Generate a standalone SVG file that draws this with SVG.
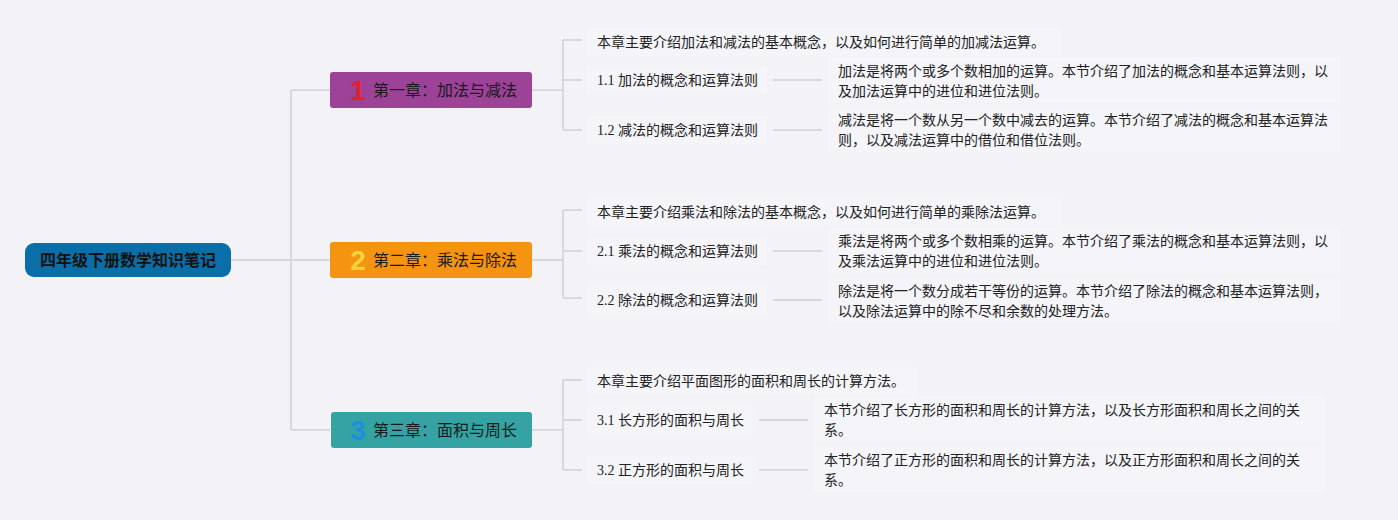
<svg xmlns="http://www.w3.org/2000/svg" width="1398" height="520" viewBox="0 0 1398 520">
<defs>
<style>
.bg{fill:#f2f2f7}
.tbg{fill:#f4f4f9}
.conn{fill:none;stroke:#d8d8dd;stroke-width:2}
.root{font-family:"Noto Sans CJK SC",sans-serif;font-size:16px;font-weight:bold;fill:#111}
.ch{font-family:"Noto Sans CJK SC",sans-serif;font-size:16px;fill:#1a1a1a}
.num{font-family:"Liberation Sans",Arial,sans-serif;font-size:28px;font-weight:bold;text-anchor:middle}
.t{font-family:"Liberation Serif","Noto Sans CJK SC",serif;font-size:14px;fill:#222}
.d{font-family:"Noto Sans CJK SC",sans-serif;font-size:14px;fill:#222}
</style>
</defs>
<rect class="bg" x="0" y="0" width="1398" height="520"/>

<g id="connectors">
<path class="conn" d="M231 260 H291 M291 90 V430 M291 90 H330 M291 260 H330 M291 430 H330"/>
<path class="conn" d="M532 90 H563 M563 40 V130 M563 40 H582 M563 80 H582 M563 130 H582"/>
<path class="conn" d="M532 260 H563 M563 210 V298 M563 210 H582 M563 251 H582 M563 298 H582"/>
<path class="conn" d="M532 430 H563 M563 380 V470 M563 380 H582 M563 420 H582 M563 470 H582"/>
<path class="conn" d="M773 80 H822 M773 130 H822 M773 251 H822 M773 300 H822 M759 420 H808 M759 470 H808"/>
</g>

<g id="root">
<rect x="25" y="243" width="206" height="34" rx="9" fill="#0a6fa8"/>
<text class="root" x="128" y="266" text-anchor="middle">四年级下册数学知识笔记</text>
</g>

<g id="ch1">
<rect x="330" y="72" width="202" height="36" rx="3" fill="#9c4397"/>
<text class="num" x="358" y="100" fill="#e3202b">1</text>
<text class="ch" x="373" y="96">第一章：加法与减法</text>
</g>
<g id="ch2">
<rect x="330" y="242" width="202" height="36" rx="3" fill="#f49410"/>
<text class="num" x="358" y="270" fill="#f6d43c">2</text>
<text class="ch" x="373" y="266">第二章：乘法与除法</text>
</g>
<g id="ch3">
<rect x="331" y="412" width="201" height="36" rx="3" fill="#35a3a3"/>
<text class="num" x="358" y="440" fill="#1e8fe0">3</text>
<text class="ch" x="373" y="436">第三章：面积与周长</text>
</g>

<g id="ch1-intro">
<rect class="tbg" x="587" y="28" width="475" height="28"/>
<text class="d" x="597" y="47">本章主要介绍加法和减法的基本概念，以及如何进行简单的加减法运算。</text>
</g>
<g id="ch1-s1">
<rect class="tbg" x="587" y="66" width="180" height="28"/>
<text class="t" x="597" y="85">1.1 加法的概念和运算法则</text>
</g>
<g id="ch1-s1-d">
<rect class="tbg" x="828" y="57" width="512" height="46"/>
<text class="d" x="838" y="76">加法是将两个或多个数相加的运算。本节介绍了加法的概念和基本运算法则，以</text>
<text class="d" x="838" y="96">及加法运算中的进位和进位法则。</text>
</g>
<g id="ch1-s2">
<rect class="tbg" x="587" y="116" width="180" height="28"/>
<text class="t" x="597" y="135">1.2 减法的概念和运算法则</text>
</g>
<g id="ch1-s2-d">
<rect class="tbg" x="828" y="106" width="512" height="46"/>
<text class="d" x="838" y="125">减法是将一个数从另一个数中减去的运算。本节介绍了减法的概念和基本运算法</text>
<text class="d" x="838" y="145">则，以及减法运算中的借位和借位法则。</text>
</g>

<g id="ch2-intro">
<rect class="tbg" x="587" y="198" width="475" height="28"/>
<text class="d" x="597" y="217">本章主要介绍乘法和除法的基本概念，以及如何进行简单的乘除法运算。</text>
</g>
<g id="ch2-s1">
<rect class="tbg" x="587" y="237" width="180" height="28"/>
<text class="t" x="597" y="256">2.1 乘法的概念和运算法则</text>
</g>
<g id="ch2-s1-d">
<rect class="tbg" x="828" y="227" width="512" height="46"/>
<text class="d" x="838" y="246">乘法是将两个或多个数相乘的运算。本节介绍了乘法的概念和基本运算法则，以</text>
<text class="d" x="838" y="266">及乘法运算中的进位和进位法则。</text>
</g>
<g id="ch2-s2">
<rect class="tbg" x="587" y="286" width="180" height="28"/>
<text class="t" x="597" y="305">2.2 除法的概念和运算法则</text>
</g>
<g id="ch2-s2-d">
<rect class="tbg" x="828" y="277" width="512" height="46"/>
<text class="d" x="838" y="296">除法是将一个数分成若干等份的运算。本节介绍了除法的概念和基本运算法则，</text>
<text class="d" x="838" y="316">以及除法运算中的除不尽和余数的处理方法。</text>
</g>

<g id="ch3-intro">
<rect class="tbg" x="587" y="367" width="330" height="28"/>
<text class="d" x="597" y="386">本章主要介绍平面图形的面积和周长的计算方法。</text>
</g>
<g id="ch3-s1">
<rect class="tbg" x="587" y="406" width="166" height="28"/>
<text class="t" x="597" y="425">3.1 长方形的面积与周长</text>
</g>
<g id="ch3-s1-d">
<rect class="tbg" x="814" y="396" width="512" height="46"/>
<text class="d" x="824" y="415">本节介绍了长方形的面积和周长的计算方法，以及长方形面积和周长之间的关</text>
<text class="d" x="824" y="435">系。</text>
</g>
<g id="ch3-s2">
<rect class="tbg" x="587" y="456" width="166" height="28"/>
<text class="t" x="597" y="475">3.2 正方形的面积与周长</text>
</g>
<g id="ch3-s2-d">
<rect class="tbg" x="814" y="446" width="512" height="46"/>
<text class="d" x="824" y="465">本节介绍了正方形的面积和周长的计算方法，以及正方形面积和周长之间的关</text>
<text class="d" x="824" y="485">系。</text>
</g>
</svg>
